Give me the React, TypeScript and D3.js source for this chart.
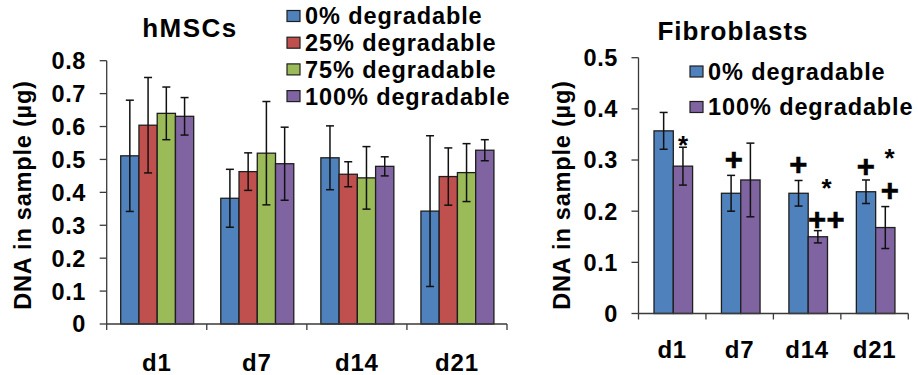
import React from "react";
import * as d3 from "d3";

// ---------- data ----------
const categories = ["d1", "d7", "d14", "d21"];

const hmscSeries = ["0% degradable", "25% degradable", "75% degradable", "100% degradable"];
const hmscMeans = [
  [0.511, 0.382, 0.505, 0.343],
  [0.604, 0.463, 0.455, 0.448],
  [0.640, 0.519, 0.444, 0.460],
  [0.631, 0.487, 0.479, 0.528],
];
const hmscErrors = [
  [0.169, 0.088, 0.097, 0.229],
  [0.145, 0.057, 0.038, 0.087],
  [0.080, 0.157, 0.095, 0.088],
  [0.057, 0.111, 0.029, 0.032],
];
const hmscTicks = [0, 0.1, 0.2, 0.3, 0.4, 0.5, 0.6, 0.7, 0.8];

const fibSeries = ["0% degradable", "100% degradable"];
const fibMeans = [
  [0.357, 0.235, 0.235, 0.238],
  [0.288, 0.261, 0.150, 0.168],
];
const fibErrors = [
  [0.036, 0.035, 0.025, 0.023],
  [0.037, 0.072, 0.012, 0.041],
];
const fibTicks = [0, 0.1, 0.2, 0.3, 0.4, 0.5];

const fibAnnotations = [
  { cat: "d1", series: 1, text: "*", y: 0.341, shift: 0 },
  { cat: "d7", series: 0, text: "+", y: 0.301, shift: 0.15 },
  { cat: "d14", series: 0, text: "+", y: 0.292, shift: 0 },
  { cat: "d14", series: 1, text: "*", y: 0.258, shift: 0.45 },
  { cat: "d14", series: 1, text: "++", y: 0.184, shift: 0.45 },
  { cat: "d21", series: 0, text: "+", y: 0.287, shift: 0 },
  { cat: "d21", series: 1, text: "*", y: 0.315, shift: 0.22 },
  { cat: "d21", series: 1, text: "+", y: 0.240, shift: 0.25 },
];

const yTitle = "DNA in sample (µg)";

// ---------- style ----------
const colors4 = ["#4F81BD", "#C0504D", "#9BBB59", "#8064A2"];
const colors2 = ["#4F81BD", "#8064A2"];
const FONT = "'Liberation Sans', Arial, sans-serif";
const AXIS = "#3a3a3a";
const BAR_STROKE = "#1e1e1e";

type PanelProps = {
  x0: number; x1: number; yTop: number; yBottom: number; yMax: number;
  ticks: number[]; means: number[][]; errors: number[][]; colors: string[];
  groupOffset: number; groupWidth: number; labelX: number; catLabelY: number;
};

function Panel(p: PanelProps) {
  const xCat = d3.scaleBand<string>().domain(categories).range([p.x0, p.x1]).padding(0);
  const y = d3.scaleLinear().domain([0, p.yMax]).range([p.yBottom, p.yTop]);
  const nSeries = p.means.length;
  const xSer = d3.scaleBand<number>().domain(d3.range(nSeries)).range([0, p.groupWidth]).padding(0);
  const bw = xSer.bandwidth();
  const boundaries = [...categories.map((c) => xCat(c) as number), p.x1];
  return (
    <g>
      {p.means.map((row, s) =>
        row.map((v, i) => {
          const bx = (xCat(categories[i]) as number) + p.groupOffset + (xSer(s) as number);
          return (
            <rect key={`b${s}-${i}`} x={bx} y={y(v)} width={bw} height={y(0) - y(v)}
              fill={p.colors[s]} stroke={BAR_STROKE} strokeWidth={1.3} />
          );
        })
      )}
      {p.means.map((row, s) =>
        row.map((v, i) => {
          const cx = (xCat(categories[i]) as number) + p.groupOffset + (xSer(s) as number) + bw / 2;
          const e = p.errors[s][i];
          return (
            <g key={`e${s}-${i}`} stroke="#111" strokeWidth={1.5}>
              <line x1={cx} x2={cx} y1={y(v + e)} y2={y(v - e)} />
              <line x1={cx - 4} x2={cx + 4} y1={y(v + e)} y2={y(v + e)} />
              <line x1={cx - 4} x2={cx + 4} y1={y(v - e)} y2={y(v - e)} />
            </g>
          );
        })
      )}
      <line x1={p.x0} x2={p.x0} y1={y(p.yMax)} y2={y(0)} stroke={AXIS} strokeWidth={1.3} />
      {p.ticks.map((t) => (
        <g key={`t${t}`}>
          <line x1={p.x0 - 7} x2={p.x0} y1={y(t)} y2={y(t)} stroke={AXIS} strokeWidth={1.3} />
          <text x={p.labelX} y={y(t)} dy="0.36em" textAnchor="end" fontFamily={FONT}
            fontWeight="bold" fontSize={23.5} letterSpacing={0.6} fill="#000">
            {t === 0 ? "0" : d3.format(".1f")(t)}
          </text>
        </g>
      ))}
      <line x1={p.x0} x2={p.x1} y1={y(0)} y2={y(0)} stroke={AXIS} strokeWidth={1.3} />
      {boundaries.map((b, i) => (
        <line key={`xb${i}`} x1={b} x2={b} y1={y(0)} y2={y(0) + 6} stroke={AXIS} strokeWidth={1.3} />
      ))}
      {categories.map((c) => (
        <text key={`c${c}`} x={(xCat(c) as number) + xCat.bandwidth() / 2} y={p.catLabelY}
          textAnchor="middle" fontFamily={FONT} fontWeight="bold" fontSize={24} letterSpacing={0.8}>
          {c}
        </text>
      ))}
    </g>
  );
}

export default function App() {
  const rx0 = 638.5, rx1 = 908.3, rTop = 57.7, rBottom = 313.5;
  const rxCat = d3.scaleBand<string>().domain(categories).range([rx0, rx1]).padding(0);
  const ry = d3.scaleLinear().domain([0, 0.5]).range([rBottom, rTop]);
  const rGroupOffset = 15.5, rGroupWidth = 38.6;
  const rxSer = d3.scaleBand<number>().domain([0, 1]).range([0, rGroupWidth]).padding(0);
  const rbw = rxSer.bandwidth();

  return (
    <svg width={918} height={375} style={{ position: "absolute", left: 0, top: 0, background: "#fff" }}>
      <rect width={918} height={375} fill="#fff" />
      <text x={190} y={37} textAnchor="middle" fontFamily={FONT} fontWeight="bold" fontSize={26} letterSpacing={1.5}>hMSCs</text>
      <text x={733} y={39.5} textAnchor="middle" fontFamily={FONT} fontWeight="bold" fontSize={26} letterSpacing={1}>Fibroblasts</text>
      <text transform="translate(31,195) rotate(-90)" textAnchor="middle" fontFamily={FONT} fontWeight="bold" fontSize={23.5} letterSpacing={0.8}>{yTitle}</text>
      <text transform="translate(570,195) rotate(-90)" textAnchor="middle" fontFamily={FONT} fontWeight="bold" fontSize={23.5} letterSpacing={0.8}>{yTitle}</text>

      <Panel x0={106.7} x1={507} yTop={60.7} yBottom={324} yMax={0.8} ticks={hmscTicks}
        means={hmscMeans} errors={hmscErrors} colors={colors4} groupOffset={14} groupWidth={73}
        labelX={86} catLabelY={371} />
      <Panel x0={rx0} x1={rx1} yTop={rTop} yBottom={rBottom} yMax={0.5} ticks={fibTicks}
        means={fibMeans} errors={fibErrors} colors={colors2} groupOffset={rGroupOffset} groupWidth={rGroupWidth}
        labelX={618} catLabelY={358} />

      {hmscSeries.map((s, i) => {
        const cy = 16 + i * 26.7;
        return (
          <g key={`l${i}`}>
            <rect x={287} y={cy - 5.5} width={13} height={11} fill={colors4[i]} stroke={BAR_STROKE} strokeWidth={1.2} />
            <text x={305} y={cy} dy="0.36em" fontFamily={FONT} fontWeight="bold" fontSize={23.5} letterSpacing={0.9}>{s}</text>
          </g>
        );
      })}
      {fibSeries.map((s, i) => {
        const cy = 71.5 + i * 35.5;
        return (
          <g key={`r${i}`}>
            <rect x={690} y={cy - 5.5} width={13} height={11} fill={colors2[i]} stroke={BAR_STROKE} strokeWidth={1.2} />
            <text x={708} y={cy} dy="0.36em" fontFamily={FONT} fontWeight="bold" fontSize={23.5} letterSpacing={0.9}>{s}</text>
          </g>
        );
      })}
      {fibAnnotations.map((a, i) => {
        const cx = (rxCat(a.cat) as number) + rGroupOffset + (rxSer(a.series) as number) + rbw / 2 + a.shift * rbw;
        const isStar = a.text === "*";
        const size = isStar ? 26 : 31;
        const base = ry(a.y) + (isStar ? 0.58 : 0.34) * size;
        return (
          <text key={`a${i}`} x={cx} y={base} textAnchor="middle" fontFamily={FONT} fontWeight="bold"
            fontSize={size} letterSpacing={isStar ? 0 : 0.5} stroke="#000" strokeWidth={isStar ? 0 : 0.6}>{a.text}</text>
        );
      })}
    </svg>
  );
}
